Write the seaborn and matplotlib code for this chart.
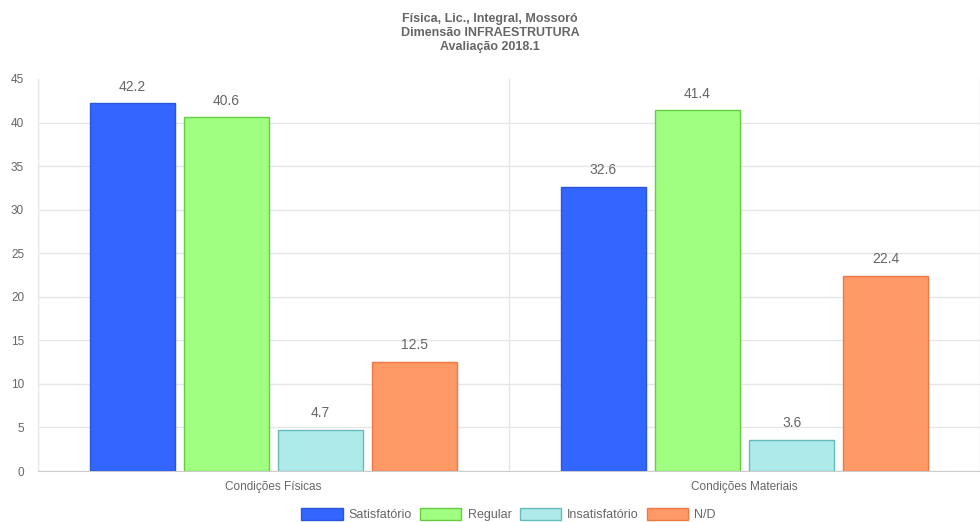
import pandas as pd
import numpy as np
import matplotlib
matplotlib.use("Agg")
import matplotlib.pyplot as plt
import seaborn as sns
from matplotlib.patches import Patch

# Chart data
categories = ['Condições Físicas', 'Condições Materiais']
series = ['Satisfatório', 'Regular', 'Insatisfatório', 'N/D']
satisfatorio = [42.2, 32.6]
regular = [40.6, 41.4]
insatisfatorio = [4.7, 3.6]
nd = [12.5, 22.4]

fill_colors = ['#3366ff', '#a0ff80', '#aeeaea', '#ff9966']
edge_colors = ['#2a55dd', '#66cc44', '#66bbbb', '#ee7744']
text_color = '#666666'
grid_color = '#e6e6e6'

# Long-format table for seaborn
rows = []
for name, vals in zip(series, [satisfatorio, regular, insatisfatorio, nd]):
    for cat, v in zip(categories, vals):
        rows.append({'categoria': cat, 'serie': name, 'valor': v})
df = pd.DataFrame(rows)

sns.set_style('white')
plt.rcParams['font.family'] = ['Liberation Sans', 'DejaVu Sans']

fig = plt.figure(figsize=(9.8, 5.22), dpi=100)
ax = fig.add_axes([38 / 980, 51 / 522, 942 / 980, 392 / 522])

sns.barplot(data=df, x='categoria', y='valor', hue='serie', order=categories,
            hue_order=series, palette=fill_colors, saturation=1, width=0.8,
            gap=0.1, linewidth=1, legend=False, ax=ax, zorder=3)

# Edge colors and value labels
for cont, ec in zip(ax.containers, edge_colors):
    for bar in cont:
        bar.set_edgecolor(ec)
    ax.bar_label(cont, labels=[f'{b.get_height():.1f}' for b in cont],
                 padding=7, color=text_color, fontsize=10)

ax.set_xlim(-0.5, 1.5)
ax.set_ylim(0, 45)
ax.set_yticks(np.arange(0, 50, 5))
ax.set_xlabel('')
ax.set_ylabel('')

# Grid like the original
ax.yaxis.grid(True, color=grid_color, linewidth=1, zorder=0)
ax.set_xticks([-0.5, 0.5, 1.5], minor=True)
ax.xaxis.grid(True, which='minor', color=grid_color, linewidth=1, zorder=0)
ax.tick_params(axis='x', which='major', length=0, pad=7, labelsize=8.5,
               labelcolor=text_color)
ax.tick_params(axis='x', which='minor', length=12, color=grid_color, width=1)
ax.tick_params(axis='y', length=8, color=grid_color, width=1, pad=2,
               labelsize=8.5, labelcolor=text_color)
fig.canvas.draw()
ax.yaxis.get_gridlines()[-1].set_visible(False)

for side in ['top', 'right']:
    ax.spines[side].set_visible(False)
ax.spines['left'].set_color(grid_color)
ax.spines['bottom'].set_color('#cccccc')

fig.suptitle('Física, Lic., Integral, Mossoró\nDimensão INFRAESTRUTURA\nAvaliação 2018.1',
             y=0.975, fontsize=9, fontweight='bold', color=text_color,
             linespacing=1.2)

handles = [Patch(facecolor=fc, edgecolor=ec, label=s)
           for fc, ec, s in zip(fill_colors, edge_colors, series)]
fig.legend(handles=handles, loc='lower center', bbox_to_anchor=(0.519, -0.02),
           ncol=4, frameon=False, handlelength=3.3, handleheight=1.0,
           handletextpad=0.5, columnspacing=0.65, fontsize=9,
           labelcolor=text_color)

fig.savefig('out.png', dpi=100)
